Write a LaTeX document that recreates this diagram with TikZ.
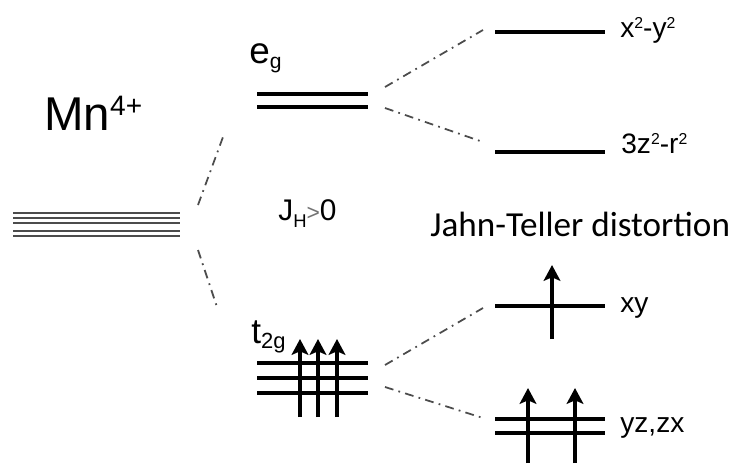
\documentclass[tikz,border=0pt]{standalone}
\usepackage{fontspec}
\setmainfont{Liberation Sans}
\newfontfamily\jtfont{Carlito}
\usetikzlibrary{arrows.meta,positioning}
\newcommand{\supx}[1]{\raisebox{5pt}{\fontsize{9}{9}\selectfont #1}}
\tikzset{
    level/.style={line width=2.2pt, black},
    degen/.style={line width=1.1pt, black!70},
    split/.style={line width=1pt, black!70,
                  dash pattern=on 5pt off 3pt on 1pt off 3pt},
    spin/.style={-{Stealth[length=9pt,width=9.5pt,inset=2pt]}, line width=2pt},
    orb/.style={anchor=base west, inner sep=0pt,
                font=\fontsize{16}{18}\selectfont},
}

\begin{document}
\begin{tikzpicture}[x=0.02cm, y=-0.02cm]
    \useasboundingbox (0,0) rectangle (733,463);

    % free ion, fivefold degenerate
    \foreach \yy in {213,218,223,231,236}
        \draw[degen] (13,\yy) -- (180,\yy);
    \node[anchor=base west, inner sep=0pt, font=\fontsize{27}{30}\selectfont]
        (ion) at (44,130) {Mn\raisebox{8pt}{\fontsize{16}{16}\selectfont 4+}};

    % cubic crystal field
    \draw[level] (257,94) -- (368,94);
    \draw[level] (257,107) -- (368,107);
    \foreach \yy in {363,378,393}
        \draw[level] (257,\yy) -- (368,\yy);
    \foreach \xx in {300,318,337}
        \draw[spin] (\xx,417) -- (\xx,339);
    \node[anchor=base west, inner sep=0pt, font=\fontsize{21}{24}\selectfont]
        (eglab) at (249,63) {e\raisebox{-3pt}{\fontsize{12}{12}\selectfont g}};
    \node[anchor=base west, inner sep=0pt, font=\fontsize{20}{24}\selectfont]
        (tlab) at (251,343) {t\raisebox{-3pt}{\fontsize{12.5}{12}\selectfont 2g}};
    \node[anchor=base west, inner sep=0pt, font=\fontsize{17}{18}\selectfont]
        (hund) at (278,220) {J\raisebox{-4pt}{\fontsize{10.5}{10}\selectfont H}%
        \textcolor{black!55}{\fontsize{13}{12}\selectfont>}0};

    % Jahn-Teller split levels
    \draw[level] (495,32) -- (605,32);
    \draw[level] (495,152) -- (605,152);
    \draw[level] (495,306) -- (605,306);
    \draw[level] (495,419) -- (605,419);
    \draw[level] (495,433) -- (605,433);
    \draw[spin] (552,339) -- (552,265);
    \foreach \xx in {528,575}
        \draw[spin] (\xx,463) -- (\xx,388);
    \node[orb] (lx2y2) at (620,37) {x\supx{2}-y\supx{2}};
    \node[orb] (lz2) at (621,153) {3z\supx{2}-r\supx{2}};
    \node[orb] (lxy) at (620,312) {xy};
    \node[orb] (lyzzx) at (620,432) {yz,zx};
    \node[anchor=base west, inner sep=0pt, font=\jtfont\fontsize{20}{22}\selectfont]
        (jt) at (430,236) {Jahn-Teller distortion};

    % connector ends
    \coordinate (free-up) at (198,205);
    \coordinate (eg-in) at (223,137);
    \coordinate (free-dn) at (198,250);
    \coordinate (t2g-in) at (218,310);
    \coordinate (eg-up) at (385,87);
    \coordinate (x2y2-in) at (483,30);
    \coordinate (eg-dn) at (385,108);
    \coordinate (z2-in) at (483,142);
    \coordinate (t2g-up) at (385,365);
    \coordinate (xy-in) at (483,308);
    \coordinate (t2g-dn) at (385,387);
    \coordinate (yzzx-in) at (483,418);

    \draw[split] (free-up) -- (eg-in);
    \draw[split] (free-dn) -- (t2g-in);
    \draw[split] (eg-up) -- (x2y2-in);
    \draw[split] (eg-dn) -- (z2-in);
    \draw[split] (t2g-up) -- (xy-in);
    \draw[split] (t2g-dn) -- (yzzx-in);
\end{tikzpicture}
\end{document}
